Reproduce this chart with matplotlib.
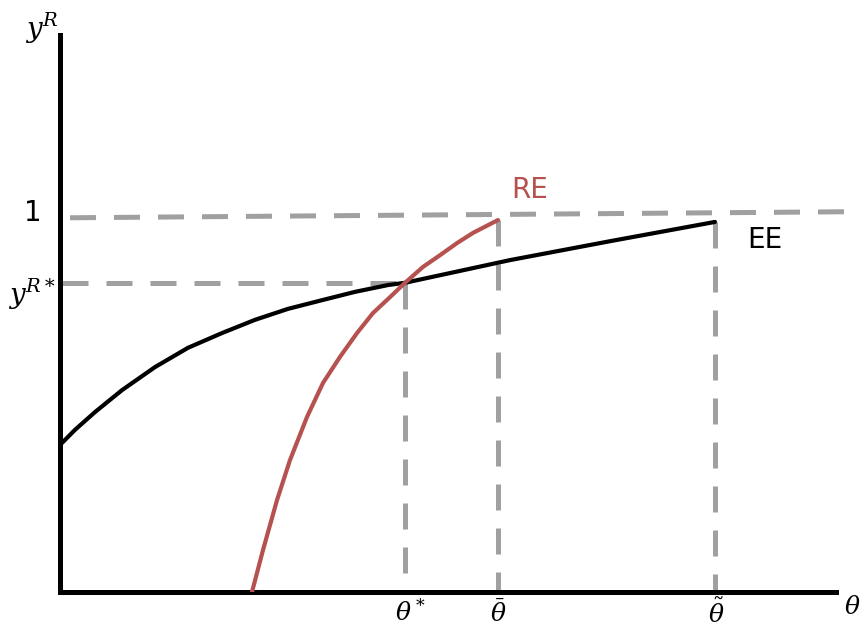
import matplotlib.pyplot as plt

# data coordinates: theta along x, y^R along y (1 = upper dashed level)
theta_star = 3.45
theta_bar = 4.38
theta_tilde = 6.55
y_star = 0.818
y_top = [0.99, 1.006]   # the "1" guide is drawn slightly tilted in the original

ee_theta = [0.0, 0.15, 0.35, 0.62, 0.95, 1.28, 1.62, 1.95, 2.28, 2.62, 2.95,
            3.28, 3.45, 4.5, 5.5, 6.55]
ee_y = [0.389, 0.429, 0.476, 0.534, 0.595, 0.646, 0.685, 0.720, 0.749, 0.772,
        0.794, 0.812, 0.818, 0.878, 0.928, 0.979]

re_theta = [1.92, 2.03, 2.17, 2.30, 2.47, 2.63, 2.80, 2.97, 3.13, 3.30, 3.45,
            3.63, 3.80, 3.97, 4.13, 4.38]
re_y = [0.0, 0.111, 0.243, 0.349, 0.463, 0.553, 0.622, 0.685, 0.738, 0.780,
        0.818, 0.860, 0.891, 0.923, 0.950, 0.984]

gray = '#a0a0a0'
red = '#b5524f'

plt.rcParams['mathtext.fontset'] = 'dejavuserif'

fig = plt.figure(figsize=(8.64, 6.26), dpi=100, facecolor='white')
ax = fig.add_axes([60 / 864, 34 / 626, 776 / 864, 557 / 626])
ax.set_xlim(0, 7.76)
ax.set_ylim(0, 1.4735)

for side in ['top', 'right']:
    ax.spines[side].set_visible(False)
for side in ['left', 'bottom']:
    ax.spines[side].set_linewidth(3.6)
    ax.spines[side].set_color('black')
ax.set_xticks([])
ax.set_yticks([])

dash_kw = dict(color=gray, lw=3.6, dashes=(5.2, 3.6), clip_on=False, zorder=1)
ax.plot([0.1, 7.9], y_top, **dash_kw)
ax.plot([0.02, theta_star], [y_star, y_star], **dash_kw)
ax.plot([theta_star, theta_star], [y_star, 0], **dash_kw)
ax.plot([theta_bar, theta_bar], [re_y[-1], 0], **dash_kw)
ax.plot([theta_tilde, theta_tilde], [ee_y[-1], 0], **dash_kw)

ax.plot(ee_theta, ee_y, color='black', lw=3.0, solid_joinstyle='round',
        solid_capstyle='round', zorder=3)
ax.plot(re_theta, re_y, color=red, lw=3.0, solid_joinstyle='round',
        solid_capstyle='round', zorder=3)

fig.text(42 / 864, 1 - 28 / 626, r'$y^R$', fontsize=20, ha='center', va='center')
fig.text(33 / 864, 1 - 213 / 626, '1', fontsize=20, ha='center', va='center')
fig.text(32 / 864, 1 - 294 / 626, r'$y^{R*}$', fontsize=20, ha='center', va='center')
fig.text(410 / 864, 1 - 612 / 626, r'$\theta^*$', fontsize=18, ha='center', va='center')
fig.text(498 / 864, 1 - 613 / 626, r'$\bar{\theta}$', fontsize=18, ha='center', va='center')
fig.text(716 / 864, 1 - 613 / 626, r'$\tilde{\theta}$', fontsize=18, ha='center', va='center')
fig.text(852 / 864, 1 - 607 / 626, r'$\theta$', fontsize=18, ha='center', va='center')
fig.text(530 / 864, 1 - 190 / 626, 'RE', fontsize=20, color=red, ha='center', va='center')
fig.text(765 / 864, 1 - 240 / 626, 'EE', fontsize=20, color='black', ha='center', va='center')

fig.savefig('out.png', dpi=100)
